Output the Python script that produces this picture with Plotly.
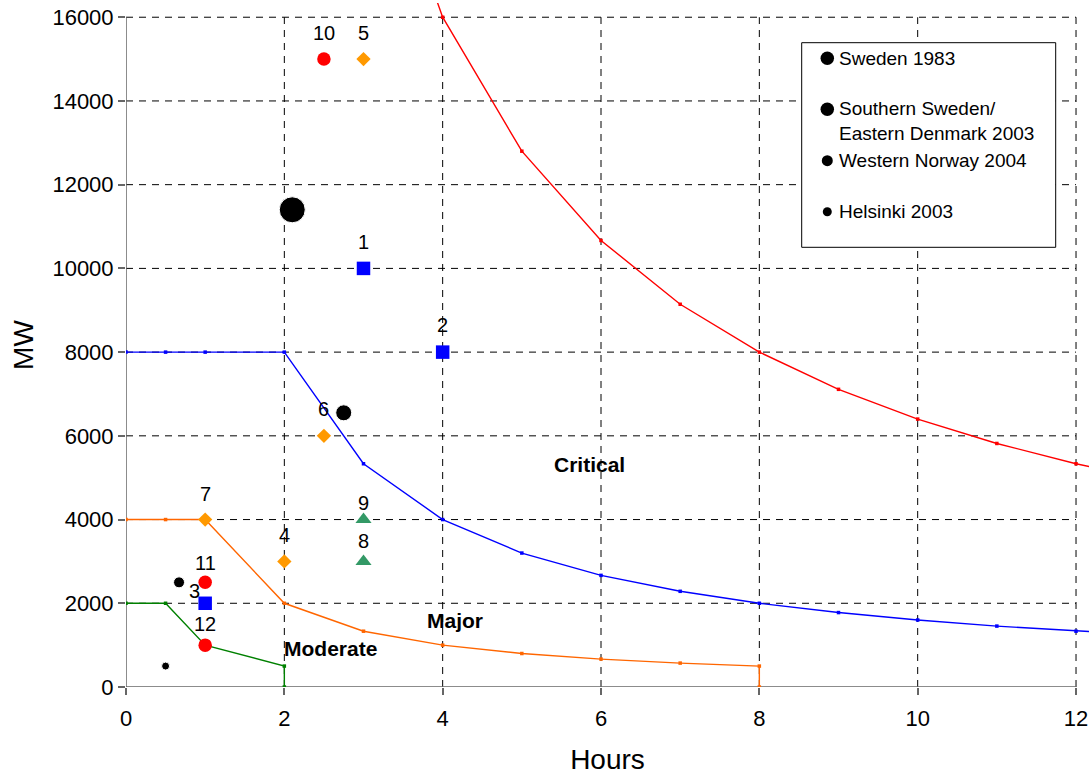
import plotly.graph_objects as go

# ---------------- data ----------------
# Threshold curves (hours, MW)
crit_hours = [3, 4, 5, 6, 7, 8, 9, 10, 11, 12, 13]
crit_mw = [21333, 16000, 12800, 10667, 9143, 8000, 7111, 6400, 5818, 5333, 4923]

major_hours = [0, 0.5, 1, 2, 3, 4, 5, 6, 7, 8, 9, 10, 11, 12, 13]
major_mw = [8000, 8000, 8000, 8000, 5333, 4000, 3200, 2667, 2286, 2000, 1778, 1600, 1455, 1333, 1231]

moder_hours = [0, 0.5, 1, 2, 3, 4, 5, 6, 7, 8, 8]
moder_mw = [4000, 4000, 4000, 2000, 1333, 1000, 800, 667, 571, 500, 0]

minor_hours = [0, 0.5, 1, 2, 2]
minor_mw = [2000, 2000, 1000, 500, 0]

# Numbered events
sq_hours = [3, 4, 1]
sq_mw = [10000, 8000, 2000]
sq_labels = ["1", "2", "3"]

dia_hours = [2, 3, 2.5, 1]
dia_mw = [3000, 15000, 6000, 4000]
dia_labels = ["4", "5", "6", "7"]

tri_hours = [3, 3]
tri_mw = [3000, 4000]
tri_labels = ["8", "9"]

red_hours = [2.5, 1, 1]
red_mw = [15000, 2500, 1000]
red_labels = ["10", "11", "12"]

# Nordic blackouts
blk_names = ["Sweden 1983", "Southern Sweden/<br>Eastern Denmark 2003",
             "Western Norway 2004", "Helsinki 2003"]
blk_hours = [2.1, 2.75, 0.67, 0.5]
blk_mw = [11400, 6550, 2500, 500]

region_names = ["Critical", "Major", "Moderate"]
region_hours = [5.86, 4.15, 2.58]
region_mw = [5323, 1594, 918]

x_ticks = [0, 2, 4, 6, 8, 10, 12]
y_ticks = [0, 2000, 4000, 6000, 8000, 10000, 12000, 14000, 16000]

# ---------------- styles / geometry ----------------
FONT = "Arial, Liberation Sans, sans-serif"
W, H = 1091, 776
ML, MR, MT, MB = 126, 2, 3, 89
PW, PH = W - ML - MR, H - MT - MB
X_RANGE = [0, 12.164]
Y_RANGE = [0, 16340]

blk_sizes = [26, 16, 11, 8]
legend_marker_sizes = [13.5, 13.5, 11, 9]
# label pixel offsets (xshift, yshift) by label
label_shift = {"1": (0, 26), "2": (0, 27), "3": (-11, 12), "4": (0, 26), "5": (0, 26),
               "6": (0, 27), "7": (0, 26), "8": (0, 20), "9": (0, 17), "10": (0, 26),
               "11": (0, 19), "12": (0, 21)}


def px(xp):
    return (xp - ML) / PW


def py(yp):
    return (MT + PH - yp) / PH


fig = go.Figure()

line_specs = [
    (crit_hours, crit_mw, "#FF0000"),
    (major_hours, major_mw, "#0000FF"),
    (moder_hours, moder_mw, "#FF6600"),
    (minor_hours, minor_mw, "#008000"),
]
for xs, ys, col in line_specs:
    fig.add_trace(go.Scatter(x=xs, y=ys, mode="lines+markers",
                             line=dict(color=col, width=1.4),
                             marker=dict(symbol="square", size=3.5, color=col),
                             showlegend=False, hoverinfo="skip"))

fig.add_trace(go.Scatter(x=sq_hours, y=sq_mw, mode="markers",
                         marker=dict(symbol="square", size=13.5, color="#0000FF", opacity=1),
                         showlegend=False))
fig.add_trace(go.Scatter(x=dia_hours, y=dia_mw, mode="markers",
                         marker=dict(symbol="diamond", size=11, color="#FF9900", opacity=1),
                         showlegend=False))
fig.add_trace(go.Scatter(x=tri_hours, y=tri_mw, mode="markers",
                         marker=dict(symbol="triangle-up", size=14, color="#339966", opacity=1),
                         showlegend=False))
fig.add_trace(go.Scatter(x=red_hours, y=red_mw, mode="markers",
                         marker=dict(symbol="circle", size=13.5, color="#FF0000", opacity=1),
                         showlegend=False))
fig.add_trace(go.Scatter(x=blk_hours, y=blk_mw, mode="markers",
                         marker=dict(symbol="circle", size=blk_sizes, color="#000000",
                                     opacity=1),
                         text=blk_names, showlegend=False))

annotations = []
for xs, ys, labs in [(sq_hours, sq_mw, sq_labels), (dia_hours, dia_mw, dia_labels),
                     (tri_hours, tri_mw, tri_labels), (red_hours, red_mw, red_labels)]:
    for xv, yv, lab in zip(xs, ys, labs):
        dx, dy = label_shift[lab]
        annotations.append(dict(x=xv, y=yv, text=lab, showarrow=False,
                                xshift=dx, yshift=dy,
                                font=dict(family=FONT, size=20, color="#000000")))

for name, xv, yv in zip(region_names, region_hours, region_mw):
    annotations.append(dict(x=xv, y=yv, text="<b>%s</b>" % name, showarrow=False,
                            font=dict(family=FONT, size=21, color="#000000")))

# manual legend
shapes = []
leg_box = (801.7, 42.7, 1055.7, 247.3)
shapes.append(dict(type="rect", xref="paper", yref="paper",
                   x0=px(leg_box[0]), x1=px(leg_box[2]),
                   y0=py(leg_box[3]), y1=py(leg_box[1]),
                   line=dict(color="#000000", width=1), fillcolor="#FFFFFF",
                   layer="above"))
leg_marker_y = [58.3, 109.3, 160.7, 211.7]
leg_text_y = [58.3, 120.5, 160.7, 211.7]
for name, my, ty, s in zip(blk_names, leg_marker_y, leg_text_y, legend_marker_sizes):
    shapes.append(dict(type="circle", xref="paper", yref="paper",
                       xsizemode="pixel", ysizemode="pixel",
                       xanchor=px(827.3), yanchor=py(my),
                       x0=-s / 2, x1=s / 2, y0=-s / 2, y1=s / 2,
                       fillcolor="#000000", line=dict(width=0), layer="above"))
    annotations.append(dict(xref="paper", yref="paper", x=px(836.5), y=py(ty),
                            text=name, showarrow=False, xanchor="left",
                            yanchor="middle", align="left",
                            font=dict(family=FONT, size=19, color="#000000")))

# dashed grid limited to the axis extent
for xv in x_ticks[1:]:
    shapes.append(dict(type="line", xref="x", yref="y", x0=xv, x1=xv,
                       y0=y_ticks[0], y1=y_ticks[-1],
                       line=dict(color="#000000", width=1, dash="7px,6px"),
                       layer="below"))
for yv in y_ticks[1:]:
    shapes.append(dict(type="line", xref="x", yref="y", x0=x_ticks[0], x1=x_ticks[-1],
                       y0=yv, y1=yv,
                       line=dict(color="#000000", width=1, dash="7px,6px"),
                       layer="below"))
# axis lines
shapes.append(dict(type="line", xref="x", yref="y", x0=x_ticks[0], x1=x_ticks[-1],
                   y0=0, y1=0, line=dict(color="#666666", width=1.5), layer="below"))
shapes.append(dict(type="line", xref="x", yref="y", x0=0, x1=0,
                   y0=y_ticks[0], y1=y_ticks[-1],
                   line=dict(color="#666666", width=1.5), layer="below"))

fig.update_layout(
    width=W, height=H,
    margin=dict(l=ML, r=MR, t=MT, b=MB, autoexpand=False),
    paper_bgcolor="#FFFFFF", plot_bgcolor="#FFFFFF",
    font=dict(family=FONT, color="#000000"),
    showlegend=False,
    annotations=annotations,
    shapes=shapes,
    xaxis=dict(range=X_RANGE, tickvals=x_ticks, ticktext=[str(v) for v in x_ticks],
               showgrid=False, zeroline=False, showline=False, automargin=False,
               ticks="outside", ticklen=7, tickcolor="#666666", tickwidth=1.5,
               ticklabelstandoff=5,
               tickfont=dict(family=FONT, size=22, color="#000000"),
               title=dict(text="Hours", font=dict(family=FONT, size=28, color="#000000"),
                          standoff=18)),
    yaxis=dict(range=Y_RANGE, tickvals=y_ticks, ticktext=[str(v) for v in y_ticks],
               showgrid=False, zeroline=False, showline=False, automargin=False,
               ticks="outside", ticklen=7, tickcolor="#666666", tickwidth=1.5,
               tickfont=dict(family=FONT, size=22, color="#000000"),
               title=dict(text="MW", font=dict(family=FONT, size=28, color="#000000"),
                          standoff=10)),
)

fig.write_html("out.html", config={"displayModeBar": False},
               post_script="document.body.style.margin='0';document.body.style.padding='0';")
